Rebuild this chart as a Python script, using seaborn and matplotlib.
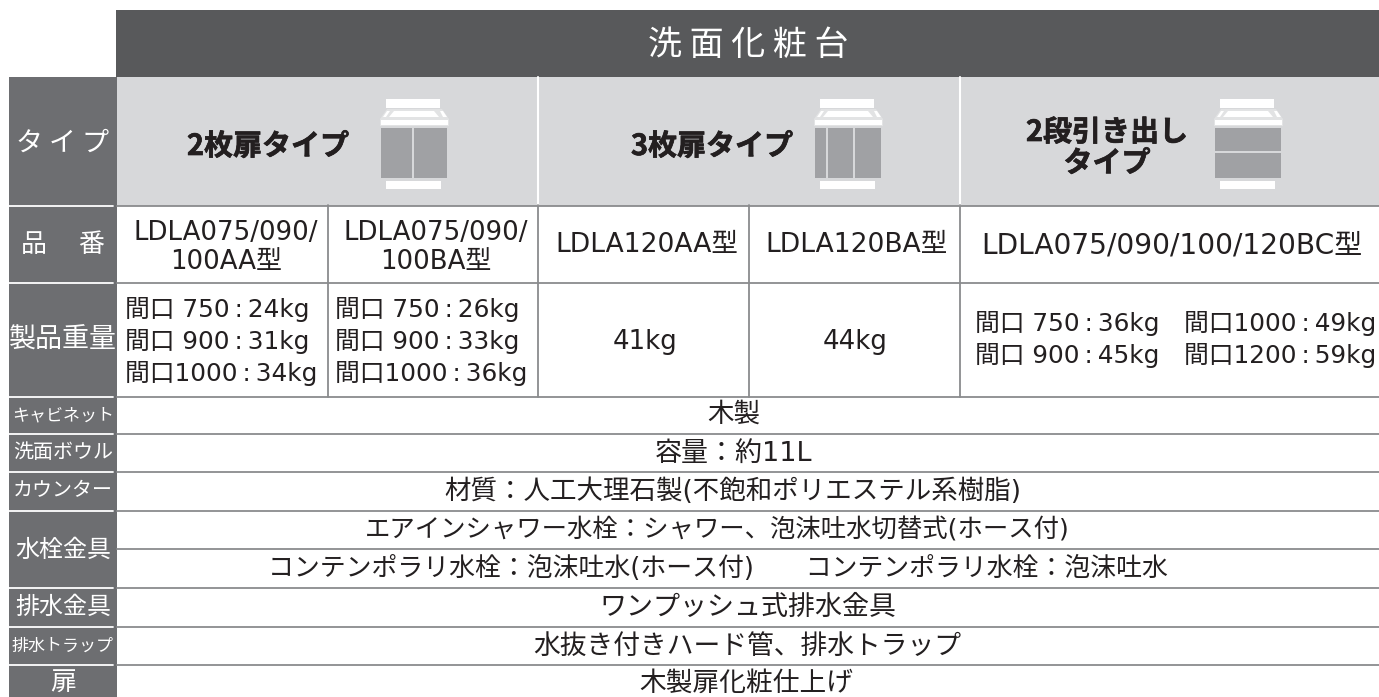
import matplotlib
matplotlib.use("Agg")
import matplotlib.pyplot as plt
import matplotlib.patheffects as pe
from matplotlib.patches import Rectangle, Polygon
import seaborn as sns

sns.set_theme(style="white")
JP = ['Noto Sans CJK JP', 'DejaVu Sans']
MIX = ['DejaVu Sans', 'Noto Sans CJK JP']
plt.rcParams['font.family'] = MIX

TITLE = "洗 面 化 粧 台"
ROW_LABELS = ["タ イ プ", "品　 番", "製品重量", "キャビネット", "洗面ボウル", "カウンター", "水栓金具", "排水金具", "排水トラップ", "扉"]
TYPES = ["2枚扉タイプ", "3枚扉タイプ", "2段引き出し", "タイプ"]
MODELS_A = ["LDLA075/090/", "100AA型"]
MODELS_B = ["LDLA075/090/", "100BA型"]
MODELS_C = ["LDLA120AA型", "LDLA120BA型"]
MODEL_D = "LDLA075/090/100/120BC型"
WEIGHT_A = ["間口 750\u2009:\u200924kg", "間口 900\u2009:\u200931kg", "間口1000\u2009:\u200934kg"]
WEIGHT_B = ["間口 750\u2009:\u200926kg", "間口 900\u2009:\u200933kg", "間口1000\u2009:\u200936kg"]
WEIGHT_C = ["41kg", "44kg"]
WEIGHT_D = ["間口 750\u2009:\u200936kg", "間口 900\u2009:\u200945kg", "間口1000\u2009:\u200949kg", "間口1200\u2009:\u200959kg"]
SPECS = ["木製", "容量：約11L", "材質：人工大理石製(不飽和ポリエステル系樹脂)",
         "エアインシャワー水栓：シャワー、泡沫吐水切替式(ホース付)",
         "コンテンポラリ水栓：泡沫吐水(ホース付)　　コンテンポラリ水栓：泡沫吐水",
         "ワンプッシュ式排水金具", "水抜き付きハード管、排水トラップ", "木製扉化粧仕上げ"]

DARK, SIDE, LIGHT, LINE, DOOR, INK = "#58595b", "#6d6e71", "#d7d8da", "#8a8b8d", "#a0a1a4", "#231f20"

fig = plt.figure(figsize=(13.79, 6.97), dpi=100, facecolor="white")
ax = fig.add_axes([0, 0, 1, 1])
ax.set_xlim(0, 1379); ax.set_ylim(697, 0); ax.axis("off")

def rect(x0, y0, x1, y1, c, z=1):
    ax.add_patch(Rectangle((x0, y0), x1 - x0, y1 - y0, fc=c, ec="none", zorder=z))
def txt(x, y, s, px=26, c=INK, w="normal", stroke=0, ha="center", fam=None):
    t = ax.text(x, y, s, fontsize=px * 0.72, color=c, ha=ha, va="center", fontweight=w,
                family=fam or MIX, zorder=5)
    if stroke:
        t.set_path_effects([pe.withStroke(linewidth=stroke, foreground=c)])
    return t

rect(116, 10, 1379, 77, DARK)
rect(9, 77, 117, 697, SIDE)
rect(117, 77, 1379, 205.5, LIGHT)

ys = [205.5, 283, 396.5, 434, 472, 511, 549, 588, 627, 665]
for i, y in enumerate(ys):
    ax.plot([117, 1379], [y, y], color=LINE, lw=1.3, zorder=2)
    if i != 6:
        ax.plot([9, 113], [y, y], color="white", lw=1.3, zorder=3)
for x in (538, 960):
    ax.plot([x, x], [77, 205], color="white", lw=1.5, zorder=2)
    ax.plot([x, x], [205, 396.5], color=LINE, lw=1.3, zorder=2)
for x in (327.5, 749):
    ax.plot([x, x], [205, 396.5], color=LINE, lw=1.3, zorder=2)

txt(748, 45, TITLE, 34, "white", fam=JP)

lab_y = [143, 245, 340, 415, 453, 491, 550, 607, 646, 683]
lab_px = [27, 26, 27, 17, 20, 20, 24, 24, 17, 26]
for l, y, p in zip(ROW_LABELS, lab_y, lab_px):
    txt(63, y, l, p, "white", fam=JP)

def icon(x0, vs=(), hs=()):
    rect(x0 + 5, 99, x0 + 59, 108, "white", 3)
    ax.add_patch(Polygon([(x0 - 1, 126), (x0 - 1, 119), (x0 + 6, 109), (x0 + 61, 109), (x0 + 68, 119), (x0 + 68, 126)],
                         fc="#e2e3e4", ec="none", zorder=2.5))
    rect(x0, 120, x0 + 67, 125, "white", 3)
    for pts in ([(8, 117), (13, 111), (53, 111), (58, 117)],
                [(2, 117), (6, 111), (9, 111), (5, 117)],
                [(59, 111), (62, 111), (66, 117), (62, 117)]):
        ax.add_patch(Polygon([(x0 + a, b) for a, b in pts], fc="white", ec="none", zorder=3))
    rect(x0, 128, x0 + 66, 178, DOOR, 3)
    for v in vs:
        rect(x0 + v - 1, 128, x0 + v + 1, 178, LIGHT, 4)
    for h in hs:
        rect(x0, h - 1, x0 + 66, h + 1, LIGHT, 4)
    rect(x0 + 5, 181, x0 + 60, 189, "white", 3)

icon(381, vs=(32,))
icon(815, vs=(12, 39))
icon(1215, hs=(152,))

BOLD = dict(px=29, w="bold", stroke=0.5, fam=JP)
txt(268, 146, TYPES[0], **BOLD)
txt(712, 146, TYPES[1], **BOLD)
txt(1107, 132, TYPES[2], **BOLD)
txt(1107, 163, TYPES[3], **BOLD)

for x, m in zip((226, 436), (MODELS_A, MODELS_B)):
    txt(x, 233, m[0], 26); txt(x, 262, m[1], 26)
txt(647, 245, MODELS_C[0], 26.5)
txt(856, 245, MODELS_C[1], 26.5)
txt(1172, 245, MODEL_D, 28)

for x, col in zip((125, 335), (WEIGHT_A, WEIGHT_B)):
    for y, s in zip((309, 341, 373), col):
        txt(x, y, s, 24.8, ha="left")
txt(645, 342, WEIGHT_C[0], 26)
txt(855, 342, WEIGHT_C[1], 26)
for (x, y), s in zip(((975, 324), (975, 356), (1184, 324), (1184, 356)), WEIGHT_D):
    txt(x, y, s, 24.8, ha="left")

spec_x = [734, 734, 733, 717, 718, 748, 747, 746]
spec_y = [415, 454, 492, 530, 569, 608, 647, 684]
spec_px = [26.5, 27, 26.5, 25.4, 25.9, 27, 26.8, 26.7]
for x, y, s, p in zip(spec_x, spec_y, SPECS, spec_px):
    txt(x, y, s, p)

fig.savefig("out.png", dpi=100)
